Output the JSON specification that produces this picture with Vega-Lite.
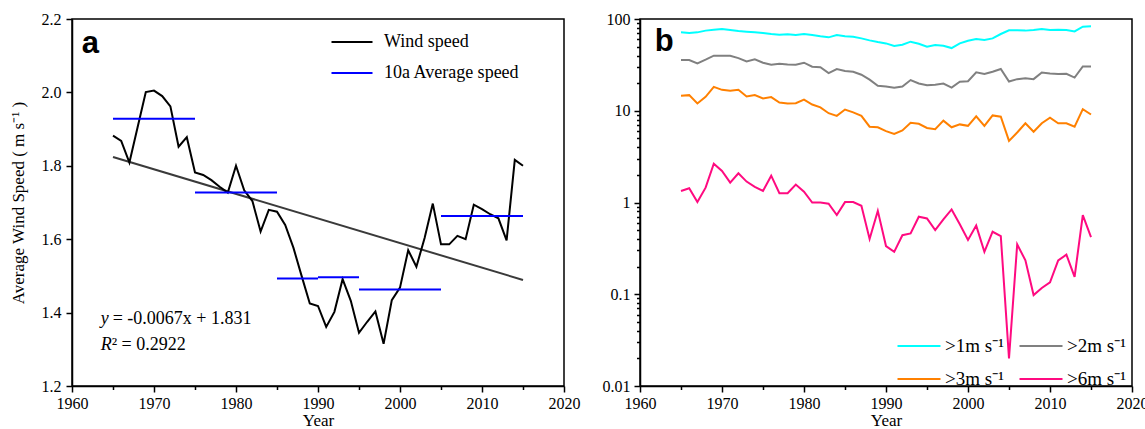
{
  "$schema": "https://vega.github.io/schema/vega-lite/v6.json",
  "padding": {"left": 8, "top": 10, "right": 0, "bottom": 0},
  "background": "white",
  "config": {
    "font": "Liberation Serif",
    "view": {"stroke": "black", "strokeWidth": 1.5},
    "axis": {"grid": false, "domainColor": "black", "domainWidth": 1.5, "tickColor": "black", "tickWidth": 1.5, "labelFont": "Liberation Serif", "labelFontSize": 16, "labelColor": "black", "titleFont": "Liberation Serif", "titleFontSize": 17, "titleFontWeight": "normal", "titleColor": "black", "labelPadding": 3},
    "legend": {"labelFont": "Liberation Serif", "labelColor": "black", "symbolType": "stroke", "symbolStrokeWidth": 2.2, "title": null}
  },
  "spacing": 20,
  "resolve": {"scale": {"color": "independent"}},
  "hconcat": [
    {
      "width": 492,
      "height": 367,
      "layer": [
        {
          "data": {"values": [{"year": 1965, "speed": 1.824}, {"year": 2015, "speed": 1.489}]},
          "mark": {"type": "line", "color": "#3a3a3a", "strokeWidth": 2},
          "encoding": {
            "x": {"field": "year", "type": "quantitative", "scale": {"domain": [1960, 2020], "nice": false},
              "axis": {"title": "Year", "values": [1960, 1965, 1970, 1975, 1980, 1985, 1990, 1995, 2000, 2005, 2010, 2015, 2020], "labelExpr": "datum.value % 10 == 0 ? datum.value + '' : ''", "labelFlush": false, "labelOverlap": false, "tickSize": {"condition": {"test": "datum.value % 10 == 0", "value": 6}, "value": 3.5}, "titlePadding": 1}},
            "y": {"field": "speed", "type": "quantitative", "scale": {"domain": [1.2, 2.2], "nice": false, "zero": false},
              "axis": {"title": "Average Wind Speed ( m s⁻¹ )", "values": [1.2, 1.4, 1.6, 1.8, 2.0, 2.2], "format": ".1f", "tickSize": 6, "labelPadding": 5, "titlePadding": 14}}
          }
        },
        {
          "data": {"values": [
            {"year": 1965, "speed": 1.882}, {"year": 1966, "speed": 1.868}, {"year": 1967, "speed": 1.809}, {"year": 1968, "speed": 1.905}, {"year": 1969, "speed": 2.001},
            {"year": 1970, "speed": 2.005}, {"year": 1971, "speed": 1.99}, {"year": 1972, "speed": 1.962}, {"year": 1973, "speed": 1.852}, {"year": 1974, "speed": 1.878},
            {"year": 1975, "speed": 1.782}, {"year": 1976, "speed": 1.775}, {"year": 1977, "speed": 1.761}, {"year": 1978, "speed": 1.743}, {"year": 1979, "speed": 1.727},
            {"year": 1980, "speed": 1.8}, {"year": 1981, "speed": 1.733}, {"year": 1982, "speed": 1.704}, {"year": 1983, "speed": 1.621}, {"year": 1984, "speed": 1.68},
            {"year": 1985, "speed": 1.675}, {"year": 1986, "speed": 1.639}, {"year": 1987, "speed": 1.577}, {"year": 1988, "speed": 1.5}, {"year": 1989, "speed": 1.425},
            {"year": 1990, "speed": 1.418}, {"year": 1991, "speed": 1.361}, {"year": 1992, "speed": 1.402}, {"year": 1993, "speed": 1.491}, {"year": 1994, "speed": 1.432},
            {"year": 1995, "speed": 1.345}, {"year": 1996, "speed": 1.375}, {"year": 1997, "speed": 1.403}, {"year": 1998, "speed": 1.315}, {"year": 1999, "speed": 1.434},
            {"year": 2000, "speed": 1.468}, {"year": 2001, "speed": 1.57}, {"year": 2002, "speed": 1.525}, {"year": 2003, "speed": 1.603}, {"year": 2004, "speed": 1.697},
            {"year": 2005, "speed": 1.586}, {"year": 2006, "speed": 1.586}, {"year": 2007, "speed": 1.609}, {"year": 2008, "speed": 1.6}, {"year": 2009, "speed": 1.694},
            {"year": 2010, "speed": 1.682}, {"year": 2011, "speed": 1.668}, {"year": 2012, "speed": 1.657}, {"year": 2013, "speed": 1.597}, {"year": 2014, "speed": 1.816},
            {"year": 2015, "speed": 1.8}
          ]},
          "transform": [{"calculate": "'Wind speed'", "as": "series"}],
          "mark": {"type": "line", "strokeWidth": 2},
          "encoding": {
            "x": {"field": "year", "type": "quantitative"},
            "y": {"field": "speed", "type": "quantitative"},
            "color": {"field": "series", "type": "nominal",
              "scale": {"domain": ["Wind speed", "10a Average speed"], "range": ["black", "#0000FF"]},
              "legend": {"orient": "none", "legendX": 258, "legendY": 1, "symbolSize": 1681, "labelFontSize": 18, "labelOffset": 10, "rowPadding": -15}}
          }
        },
        {
          "data": {"values": [
            {"seg": 1, "year": 1965, "speed": 1.928}, {"seg": 1, "year": 1975, "speed": 1.928},
            {"seg": 2, "year": 1975, "speed": 1.727}, {"seg": 2, "year": 1985, "speed": 1.727},
            {"seg": 3, "year": 1985, "speed": 1.493}, {"seg": 3, "year": 1990, "speed": 1.493},
            {"seg": 4, "year": 1990, "speed": 1.496}, {"seg": 4, "year": 1995, "speed": 1.496},
            {"seg": 5, "year": 1995, "speed": 1.463}, {"seg": 5, "year": 2005, "speed": 1.463},
            {"seg": 6, "year": 2005, "speed": 1.663}, {"seg": 6, "year": 2015, "speed": 1.663}
          ]},
          "transform": [{"calculate": "'10a Average speed'", "as": "series"}],
          "mark": {"type": "line", "strokeWidth": 2},
          "encoding": {
            "x": {"field": "year", "type": "quantitative"},
            "y": {"field": "speed", "type": "quantitative"},
            "color": {"field": "series", "type": "nominal"},
            "detail": {"field": "seg", "type": "nominal"}
          }
        },
        {
          "data": {"values": [{"t": "a"}]},
          "mark": {"type": "text", "font": "Liberation Sans", "fontWeight": "bold", "fontSize": 31, "align": "left", "baseline": "alphabetic", "color": "black"},
          "encoding": {"x": {"datum": 1961.2}, "y": {"datum": 2.108}, "text": {"field": "t"}}
        },
        {
          "data": {"values": [{"t": "y"}]},
          "mark": {"type": "text", "fontStyle": "italic", "fontSize": 18, "align": "left", "baseline": "alphabetic", "color": "black"},
          "encoding": {"x": {"datum": 1963.5}, "y": {"datum": 1.369}, "text": {"field": "t"}}
        },
        {
          "data": {"values": [{"t": "= -0.0067x + 1.831"}]},
          "mark": {"type": "text", "fontSize": 18, "align": "left", "baseline": "alphabetic", "dx": 12, "color": "black"},
          "encoding": {"x": {"datum": 1963.5}, "y": {"datum": 1.369}, "text": {"field": "t"}}
        },
        {
          "data": {"values": [{"t": "R"}]},
          "mark": {"type": "text", "fontStyle": "italic", "fontSize": 18, "align": "left", "baseline": "alphabetic", "color": "black"},
          "encoding": {"x": {"datum": 1963.5}, "y": {"datum": 1.298}, "text": {"field": "t"}}
        },
        {
          "data": {"values": [{"t": "² = 0.2922"}]},
          "mark": {"type": "text", "fontSize": 18, "align": "left", "baseline": "alphabetic", "dx": 11, "color": "black"},
          "encoding": {"x": {"datum": 1963.5}, "y": {"datum": 1.298}, "text": {"field": "t"}}
        }
      ]
    },
    {
      "width": 492,
      "height": 367,
      "layer": [
        {
          "data": {"values": [
            {"year": 1965, "c1": 71.5, "c2": 35.7, "c3": 14.6, "c6": 1.335},
            {"year": 1966, "c1": 70.3, "c2": 35.7, "c3": 14.8, "c6": 1.43},
            {"year": 1967, "c1": 71.5, "c2": 32.8, "c3": 12.0, "c6": 1.01},
            {"year": 1968, "c1": 74.7, "c2": 36.0, "c3": 14.2, "c6": 1.45},
            {"year": 1969, "c1": 76.5, "c2": 39.8, "c3": 18.2, "c6": 2.65},
            {"year": 1970, "c1": 77.8, "c2": 39.8, "c3": 16.9, "c6": 2.21},
            {"year": 1971, "c1": 75.9, "c2": 39.8, "c3": 16.5, "c6": 1.65},
            {"year": 1972, "c1": 74.0, "c2": 37.5, "c3": 16.9, "c6": 2.08},
            {"year": 1973, "c1": 72.8, "c2": 34.5, "c3": 14.3, "c6": 1.69},
            {"year": 1974, "c1": 71.5, "c2": 36.3, "c3": 14.8, "c6": 1.48},
            {"year": 1975, "c1": 70.3, "c2": 33.4, "c3": 13.6, "c6": 1.335},
            {"year": 1976, "c1": 68.6, "c2": 31.7, "c3": 14.1, "c6": 1.96},
            {"year": 1977, "c1": 67.5, "c2": 32.5, "c3": 12.3, "c6": 1.26},
            {"year": 1978, "c1": 68.0, "c2": 32.0, "c3": 12.0, "c6": 1.26},
            {"year": 1979, "c1": 66.8, "c2": 31.7, "c3": 12.1, "c6": 1.57},
            {"year": 1980, "c1": 68.6, "c2": 33.4, "c3": 13.2, "c6": 1.31},
            {"year": 1981, "c1": 66.8, "c2": 30.2, "c3": 11.7, "c6": 1.0},
            {"year": 1982, "c1": 64.7, "c2": 29.8, "c3": 10.9, "c6": 1.0},
            {"year": 1983, "c1": 63.1, "c2": 25.7, "c3": 9.4, "c6": 0.97},
            {"year": 1984, "c1": 66.8, "c2": 28.5, "c3": 8.8, "c6": 0.73},
            {"year": 1985, "c1": 64.7, "c2": 27.1, "c3": 10.3, "c6": 1.01},
            {"year": 1986, "c1": 64.1, "c2": 26.6, "c3": 9.6, "c6": 1.01},
            {"year": 1987, "c1": 61.5, "c2": 24.7, "c3": 8.8, "c6": 0.92},
            {"year": 1988, "c1": 58.5, "c2": 21.8, "c3": 6.7, "c6": 0.40},
            {"year": 1989, "c1": 56.1, "c2": 18.7, "c3": 6.6, "c6": 0.81},
            {"year": 1990, "c1": 54.2, "c2": 18.4, "c3": 6.0, "c6": 0.335},
            {"year": 1991, "c1": 50.7, "c2": 17.8, "c3": 5.6, "c6": 0.29},
            {"year": 1992, "c1": 52.5, "c2": 18.4, "c3": 6.1, "c6": 0.44},
            {"year": 1993, "c1": 56.6, "c2": 21.6, "c3": 7.4, "c6": 0.46},
            {"year": 1994, "c1": 53.8, "c2": 19.8, "c3": 7.2, "c6": 0.70},
            {"year": 1995, "c1": 49.9, "c2": 19.0, "c3": 6.5, "c6": 0.67},
            {"year": 1996, "c1": 52.0, "c2": 19.2, "c3": 6.3, "c6": 0.50},
            {"year": 1997, "c1": 51.2, "c2": 19.8, "c3": 7.8, "c6": 0.655},
            {"year": 1998, "c1": 48.2, "c2": 17.9, "c3": 6.6, "c6": 0.84},
            {"year": 1999, "c1": 54.2, "c2": 20.7, "c3": 7.1, "c6": 0.58},
            {"year": 2000, "c1": 58.0, "c2": 21.0, "c3": 6.85, "c6": 0.39},
            {"year": 2001, "c1": 60.5, "c2": 26.2, "c3": 8.7, "c6": 0.56},
            {"year": 2002, "c1": 59.0, "c2": 25.1, "c3": 6.85, "c6": 0.29},
            {"year": 2003, "c1": 61.5, "c2": 26.6, "c3": 8.9, "c6": 0.48},
            {"year": 2004, "c1": 68.6, "c2": 28.5, "c3": 8.6, "c6": 0.43},
            {"year": 2005, "c1": 75.2, "c2": 20.8, "c3": 4.7, "c6": 0.02},
            {"year": 2006, "c1": 75.2, "c2": 22.1, "c3": 5.8, "c6": 0.35},
            {"year": 2007, "c1": 74.7, "c2": 22.6, "c3": 7.3, "c6": 0.234},
            {"year": 2008, "c1": 75.9, "c2": 22.1, "c3": 5.9, "c6": 0.098},
            {"year": 2009, "c1": 77.8, "c2": 26.1, "c3": 7.3, "c6": 0.117},
            {"year": 2010, "c1": 75.9, "c2": 25.5, "c3": 8.4, "c6": 0.135},
            {"year": 2011, "c1": 76.5, "c2": 25.1, "c3": 7.3, "c6": 0.234},
            {"year": 2012, "c1": 75.9, "c2": 25.3, "c3": 7.3, "c6": 0.27},
            {"year": 2013, "c1": 73.3, "c2": 23.0, "c3": 6.7, "c6": 0.155},
            {"year": 2014, "c1": 82.5, "c2": 30.4, "c3": 10.4, "c6": 0.73},
            {"year": 2015, "c1": 83.2, "c2": 30.4, "c3": 9.1, "c6": 0.42}
          ]},
          "transform": [{"fold": ["c1", "c2", "c3", "c6"], "as": ["band", "pct"]}],
          "mark": {"type": "line", "strokeWidth": 2},
          "encoding": {
            "x": {"field": "year", "type": "quantitative", "scale": {"domain": [1960, 2020], "nice": false},
              "axis": {"title": "Year", "values": [1960, 1965, 1970, 1975, 1980, 1985, 1990, 1995, 2000, 2005, 2010, 2015, 2020], "labelExpr": "datum.value % 10 == 0 ? datum.value + '' : ''", "labelFlush": false, "labelOverlap": false, "tickSize": {"condition": {"test": "datum.value % 10 == 0", "value": 6}, "value": 3.5}, "titlePadding": 1}},
            "y": {"field": "pct", "type": "quantitative", "scale": {"type": "log", "domain": [0.01, 100], "nice": false},
              "axis": {"title": null, "values": [0.01, 0.02, 0.03, 0.04, 0.05, 0.06, 0.07, 0.08, 0.09, 0.1, 0.2, 0.3, 0.4, 0.5, 0.6, 0.7, 0.8, 0.9, 1, 2, 3, 4, 5, 6, 7, 8, 9, 10, 20, 30, 40, 50, 60, 70, 80, 90, 100],
                "labelExpr": "indexof([0.01, 0.1, 1, 10, 100], datum.value) >= 0 ? format(datum.value, '~g') : ''", "labelOverlap": false,
                "tickSize": {"condition": {"test": "indexof([0.01, 0.1, 1, 10, 100], datum.value) >= 0", "value": 6}, "value": 3.5}, "labelPadding": 4}},
            "color": {"field": "band", "type": "nominal",
              "scale": {"domain": ["c1", "c3", "c2", "c6"], "range": ["#00FFFF", "#FF8000", "#808080", "#FF0A80"]},
              "legend": {"orient": "none", "legendX": 256, "legendY": 304, "columns": 2, "columnPadding": 11, "rowPadding": -18, "symbolSize": 1849, "labelFontSize": 19, "labelOffset": 3,
                "labelExpr": "datum.label == 'c1' ? '>1m s⁻¹' : datum.label == 'c2' ? '>2m s⁻¹' : datum.label == 'c3' ? '>3m s⁻¹' : '>6m s⁻¹'"}}
          }
        },
        {
          "data": {"values": [{"t": "b"}]},
          "mark": {"type": "text", "font": "Liberation Sans", "fontWeight": "bold", "fontSize": 31, "align": "left", "baseline": "alphabetic", "color": "black"},
          "encoding": {"x": {"datum": 1961.8}, "y": {"datum": 45.1}, "text": {"field": "t"}}
        }
      ]
    }
  ]
}
